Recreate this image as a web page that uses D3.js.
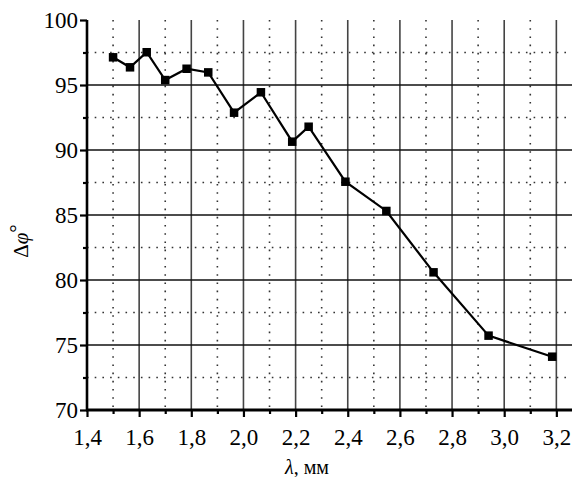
<!DOCTYPE html>
<html>
<head>
<meta charset="utf-8">
<script src="https://cdn.jsdelivr.net/npm/d3@7"></script>
<style>
  html, body { margin: 0; padding: 0; background: #fff; }
  svg { display: block; }
</style>
</head>
<body>
<svg id="chart" width="580" height="477"></svg>
<script>
// Data
const lambda = [1.50, 1.565, 1.629, 1.70, 1.782, 1.865, 1.964, 2.067, 2.187, 2.25, 2.391, 2.548, 2.729, 2.94, 3.184];
const dphi   = [97.13, 96.36, 97.52, 95.38, 96.25, 95.97, 92.87, 94.44, 90.64, 91.79, 87.56, 85.31, 80.59, 75.72, 74.10];
const xMajorTicks = [1.4, 1.6, 1.8, 2.0, 2.2, 2.4, 2.6, 2.8, 3.0, 3.2];
const xMinorTicks = [1.5, 1.7, 1.9, 2.1, 2.3, 2.5, 2.7, 2.9, 3.1];
const yMajorTicks = [70, 75, 80, 85, 90, 95, 100];
const yMinorTicks = [72.5, 77.5, 82.5, 87.5, 92.5, 97.5];
const xLabelText = "мм";

const FONT = '"Liberation Serif", serif';
const svg = d3.select("#chart");
const L = 87, R = 572, T = 20, B = 410;
const x = d3.scaleLinear().domain([1.4, 3.26]).range([L, R]);
const y = d3.scaleLinear().domain([70, 100]).range([B, T]);
const fmt = d => d.toFixed(1).replace(".", ",");

// minor grid (dotted)
const g = svg.append("g");
g.selectAll(".vminor").data(xMinorTicks).enter().append("line")
  .attr("x1", d => x(d)).attr("x2", d => x(d)).attr("y1", T).attr("y2", B)
  .attr("stroke", "#333").attr("stroke-width", 1.6).attr("stroke-dasharray", "1.6,6.6");
g.selectAll(".hminor").data(yMinorTicks).enter().append("line")
  .attr("x1", L).attr("x2", R).attr("y1", d => y(d)).attr("y2", d => y(d))
  .attr("stroke", "#333").attr("stroke-width", 1.6).attr("stroke-dasharray", "1.6,6.1");

// major grid
g.selectAll(".vmajor").data(xMajorTicks.slice(1)).enter().append("line")
  .attr("x1", d => x(d)).attr("x2", d => x(d)).attr("y1", T).attr("y2", B)
  .attr("stroke", "#444").attr("stroke-width", 1.6);
g.selectAll(".hmajor").data(yMajorTicks.slice(1, -1)).enter().append("line")
  .attr("x1", L).attr("x2", R).attr("y1", d => y(d)).attr("y2", d => y(d))
  .attr("stroke", "#111").attr("stroke-width", 1.4);

// axes
const xAxis = d3.axisBottom(x).tickValues(xMajorTicks).tickFormat(fmt).tickSize(7).tickPadding(12).tickSizeOuter(0);
const xMinor = d3.axisBottom(x).tickValues(xMinorTicks).tickFormat("").tickSize(4).tickSizeOuter(0);
const yAxis = d3.axisLeft(y).tickValues(yMajorTicks).tickFormat(d3.format("d")).tickSize(7).tickPadding(2).tickSizeOuter(0);
const yMinor = d3.axisLeft(y).tickValues(yMinorTicks).tickFormat("").tickSize(4).tickSizeOuter(0);

function styleAxis(sel, w) {
  sel.attr("font-family", FONT).attr("font-size", 23);
  sel.select(".domain").attr("stroke", "#000").attr("stroke-width", w);
  sel.selectAll(".tick line").attr("stroke", "#000").attr("stroke-width", 2.2);
  sel.selectAll(".tick text").attr("fill", "#000");
}
const gxm = svg.append("g").attr("transform", `translate(0,${B})`).call(xMinor); styleAxis(gxm, 0);
const gym = svg.append("g").attr("transform", `translate(${L},0)`).call(yMinor); styleAxis(gym, 0);
const gx = svg.append("g").attr("transform", `translate(0,${B})`).call(xAxis); styleAxis(gx, 3);
const gy = svg.append("g").attr("transform", `translate(${L},0)`).call(yAxis); styleAxis(gy, 2.6);
gx.select(".domain").attr("d", `M${L-1},0H${R}`);
gy.select(".domain").attr("d", `M0,${B}V${T}`);

// data line and markers
const pts = lambda.map((v, i) => [v, dphi[i]]);
svg.append("path").datum(pts)
  .attr("fill", "none").attr("stroke", "#000").attr("stroke-width", 2.2)
  .attr("d", d3.line().x(d => x(d[0])).y(d => y(d[1])));
const ms = 8.5;
svg.selectAll(".pt").data(pts).enter().append("rect")
  .attr("x", d => x(d[0]) - ms / 2).attr("y", d => y(d[1]) - ms / 2)
  .attr("width", ms).attr("height", ms).attr("fill", "#000");

// axis titles
const xt = svg.append("text").attr("x", 307).attr("y", 474).attr("text-anchor", "middle")
  .attr("font-family", FONT).attr("font-size", 20).attr("fill", "#000");
xt.append("tspan").attr("font-style", "italic").text("λ");
xt.append("tspan").text(", " + xLabelText);

const yt = svg.append("text").attr("transform", "translate(28,241) rotate(-90)").attr("text-anchor", "middle")
  .attr("font-family", FONT).attr("font-size", 21).attr("fill", "#000");
yt.append("tspan").text("Δ");
yt.append("tspan").attr("font-style", "italic").text("φ");
yt.append("tspan").attr("dy", "-0.2em").text("°");
</script>
</body>
</html>
